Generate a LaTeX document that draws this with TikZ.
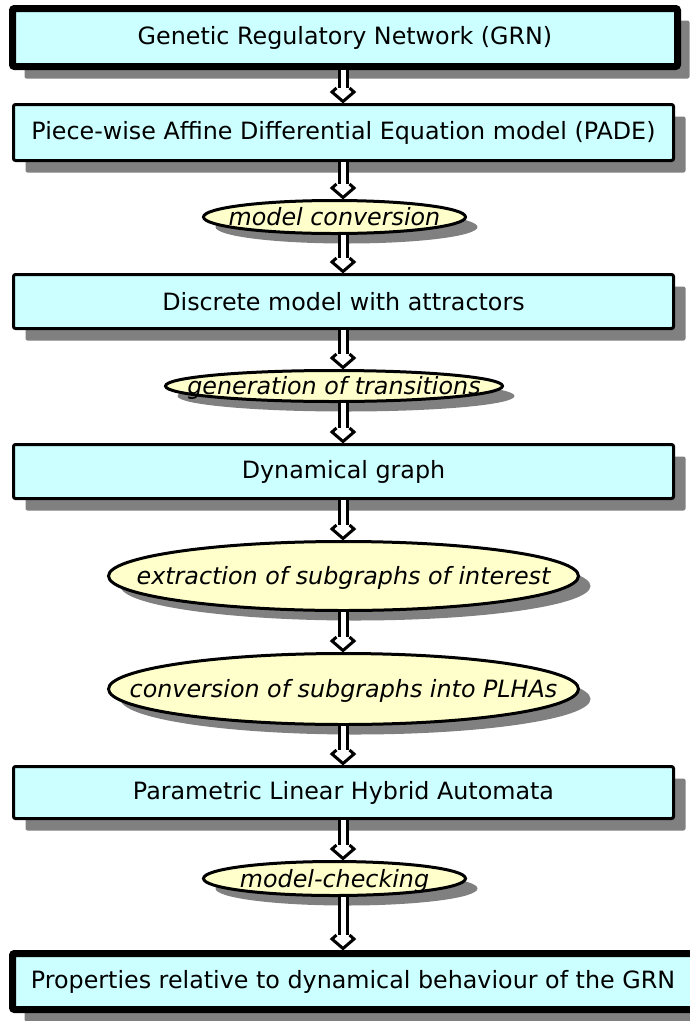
\documentclass[tikz,border=0pt]{standalone}
\usepackage{fontspec}
\setmainfont{DejaVu Sans}
\usetikzlibrary{shapes.geometric,shadows,calc}
\definecolor{boxfill}{HTML}{CCFFFF}
\definecolor{ellfill}{HTML}{FFFFCC}
\newcommand{\elltext}[1]{\makebox[0pt]{\raisebox{-0.36em}[0pt][0pt]{#1}}}
\tikzset{
  stagebox/.style={rectangle, draw=black, line width=3pt, fill=boxfill, rounded corners=2pt,
    minimum width=660pt, minimum height=55pt, inner sep=0pt,
    font=\fontsize{23.8}{28}\selectfont,
    drop shadow={shadow xshift=12pt, shadow yshift=-12pt, opacity=1, fill=black!50}},
  thickbox/.style={stagebox, line width=7pt},
  stepell/.style={ellipse, draw=black, line width=3pt, fill=ellfill, inner sep=0pt,
    font=\fontsize{23.8}{28}\selectfont\itshape,
    drop shadow={shadow xshift=12pt, shadow yshift=-10pt, opacity=1, fill=black!50}},
  shaftline/.style={draw=black, line width=3pt, double=white, double distance=5pt},
  headline/.style={draw=black, line width=3pt, line join=miter, fill=white},
}
% double-line connector with an open head, from node anchor #1 to node anchor #2
\newcommand{\flowto}[2]{%
  \coordinate (fs) at (#1 -| ax);
  \coordinate (ft) at (#2 -| ax);
  \draw[shaftline] (fs) -- ($(ft)+(0,14.5pt)$);
  \fill[white] ($(ft)+(-5.5pt,15pt)$) -- ($(ft)+(-11pt,11pt)$) -- (ft) -- ($(ft)+(11pt,11pt)$) -- ($(ft)+(5.5pt,15pt)$) -- cycle;
  \draw[headline, fill=none] ($(ft)+(-6.5pt,15pt)$) -- ($(ft)+(-11pt,11pt)$) -- ($(ft)+(0,1.5pt)$) -- ($(ft)+(11pt,11pt)$) -- ($(ft)+(6.5pt,15pt)$);
}
\begin{document}
\begin{tikzpicture}[x=1pt,y=-1pt]
\useasboundingbox (0,0) rectangle (689,1021);
\coordinate (ax) at (343,0);
\node[thickbox, minimum width=665pt, minimum height=58pt] (b1) at (345,37.5) {Genetic Regulatory Network (GRN)};
\node[stagebox, minimum height=56pt] (b2) at (343.5,132.5) {Piece-wise Affine Differential Equation model (PADE)};
\node[stepell, minimum width=262pt, minimum height=33pt] (e1) at (334.5,217) {\elltext{model conversion}};
\node[stagebox, minimum height=54pt] (b3) at (343.5,301.5) {Discrete model with attractors};
\node[stepell, minimum width=337pt, minimum height=31pt] (e2) at (334,386) {\elltext{generation of transitions}};
\node[stagebox, minimum height=54pt] (b4) at (343.5,471.5) {Dynamical graph};
\node[stepell, minimum width=470pt, minimum height=69pt] (e3) at (343.5,576) {\elltext{extraction of subgraphs of interest}};
\node[stepell, minimum width=470pt, minimum height=71pt] (e4) at (343.5,689) {\elltext{conversion of subgraphs into PLHAs}};
\node[stagebox, minimum height=52pt] (b5) at (343.5,792.5) {Parametric Linear Hybrid Automata};
\node[stepell, minimum width=262pt, minimum height=34pt] (e5) at (334.5,878.5) {\elltext{model-checking}};
\node[thickbox, minimum width=681pt, minimum height=56pt] (b6) at (353,981.5) {Properties relative to dynamical behaviour of the GRN};
\flowto{b1.south}{b2.north}
\flowto{b2.south}{e1.north}
\flowto{e1.south}{b3.north}
\flowto{b3.south}{e2.north}
\flowto{e2.south}{b4.north}
\flowto{b4.south}{e3.north}
\flowto{e3.south}{e4.north}
\flowto{e4.south}{b5.north}
\flowto{b5.south}{e5.north}
\flowto{e5.south}{b6.north}
\end{tikzpicture}
\end{document}
